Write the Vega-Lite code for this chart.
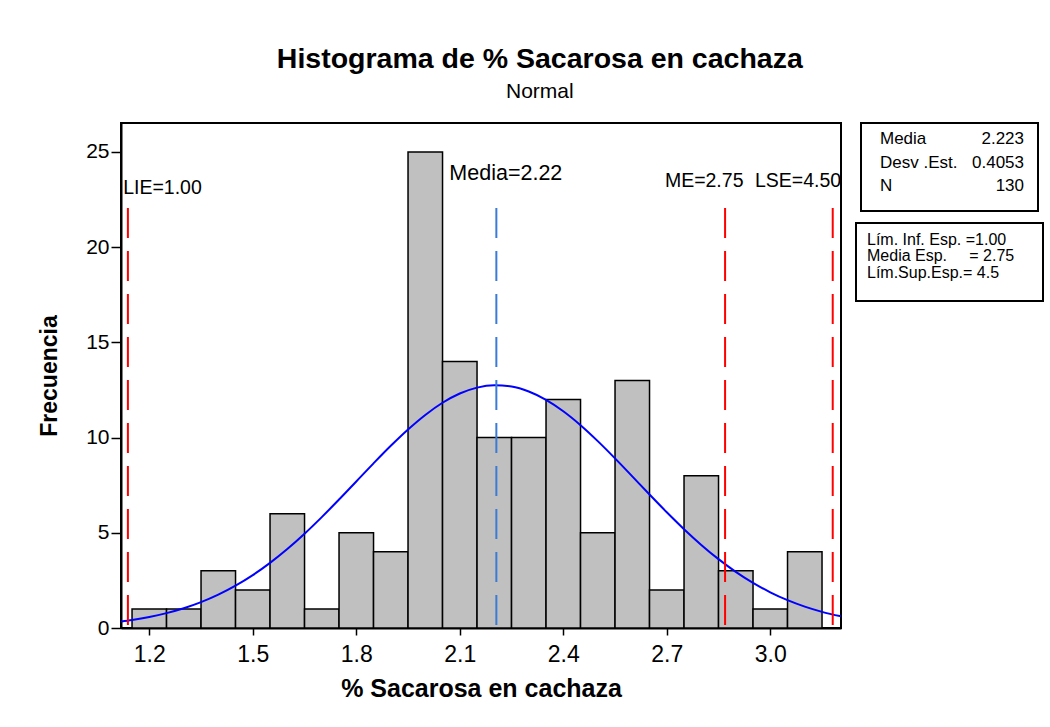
{
  "$schema": "https://vega.github.io/schema/vega-lite/v6.json",
  "background": "white",
  "padding": {"left": 37, "top": 44, "right": 0, "bottom": 0},
  "title": {
    "text": "Histograma de % Sacarosa en cachaza",
    "subtitle": "Normal",
    "anchor": "middle",
    "dx": -1,
    "font": "Liberation Sans",
    "fontSize": 28.5,
    "fontWeight": "bold",
    "color": "black",
    "subtitleFont": "Liberation Sans",
    "subtitleFontSize": 21,
    "subtitleColor": "black",
    "subtitlePadding": 8,
    "offset": 20
  },
  "config": {
    "font": "Liberation Sans",
    "view": {"stroke": "black", "strokeWidth": 2}
  },
  "datasets": {
    "bins": [
      {"bin_start": 1.15, "bin_end": 1.25, "count": 1},
      {"bin_start": 1.25, "bin_end": 1.35, "count": 1},
      {"bin_start": 1.35, "bin_end": 1.45, "count": 3},
      {"bin_start": 1.45, "bin_end": 1.55, "count": 2},
      {"bin_start": 1.55, "bin_end": 1.65, "count": 6},
      {"bin_start": 1.65, "bin_end": 1.75, "count": 1},
      {"bin_start": 1.75, "bin_end": 1.85, "count": 5},
      {"bin_start": 1.85, "bin_end": 1.95, "count": 4},
      {"bin_start": 1.95, "bin_end": 2.05, "count": 25},
      {"bin_start": 2.05, "bin_end": 2.15, "count": 14},
      {"bin_start": 2.15, "bin_end": 2.25, "count": 10},
      {"bin_start": 2.25, "bin_end": 2.35, "count": 10},
      {"bin_start": 2.35, "bin_end": 2.45, "count": 12},
      {"bin_start": 2.45, "bin_end": 2.55, "count": 5},
      {"bin_start": 2.55, "bin_end": 2.65, "count": 13},
      {"bin_start": 2.65, "bin_end": 2.75, "count": 2},
      {"bin_start": 2.75, "bin_end": 2.85, "count": 8},
      {"bin_start": 2.85, "bin_end": 2.95, "count": 3},
      {"bin_start": 2.95, "bin_end": 3.05, "count": 1},
      {"bin_start": 3.05, "bin_end": 3.15, "count": 4}
    ],
    "curve": [
      {"x": 1.118, "y": 0.343}, {"x": 1.15, "y": 0.423}, {"x": 1.2, "y": 0.579},
      {"x": 1.25, "y": 0.782}, {"x": 1.3, "y": 1.038}, {"x": 1.35, "y": 1.359},
      {"x": 1.4, "y": 1.751}, {"x": 1.45, "y": 2.223}, {"x": 1.5, "y": 2.778},
      {"x": 1.55, "y": 3.42}, {"x": 1.6, "y": 4.147}, {"x": 1.65, "y": 4.952},
      {"x": 1.7, "y": 5.824}, {"x": 1.75, "y": 6.746}, {"x": 1.8, "y": 7.696},
      {"x": 1.85, "y": 8.646}, {"x": 1.9, "y": 9.567}, {"x": 1.95, "y": 10.425},
      {"x": 2.0, "y": 11.189}, {"x": 2.05, "y": 11.828}, {"x": 2.1, "y": 12.313},
      {"x": 2.15, "y": 12.624}, {"x": 2.2, "y": 12.748}, {"x": 2.25, "y": 12.678},
      {"x": 2.3, "y": 12.418}, {"x": 2.35, "y": 11.979}, {"x": 2.4, "y": 11.381},
      {"x": 2.45, "y": 10.65}, {"x": 2.5, "y": 9.814}, {"x": 2.55, "y": 8.908},
      {"x": 2.6, "y": 7.962}, {"x": 2.65, "y": 7.01}, {"x": 2.7, "y": 6.078},
      {"x": 2.75, "y": 5.19}, {"x": 2.8, "y": 4.365}, {"x": 2.85, "y": 3.615},
      {"x": 2.9, "y": 2.949}, {"x": 2.95, "y": 2.369}, {"x": 3.0, "y": 1.875},
      {"x": 3.05, "y": 1.461}, {"x": 3.1, "y": 1.121}, {"x": 3.15, "y": 0.848},
      {"x": 3.205, "y": 0.612}
    ],
    "refs": [
      {"name": "LIE", "text": "LIE=1.00", "pos": 1.138, "kind": "spec"},
      {"name": "Media", "text": "Media=2.22", "pos": 2.206, "kind": "mean"},
      {"name": "ME", "text": "ME=2.75", "pos": 2.869, "kind": "spec"},
      {"name": "LSE", "text": "LSE=4.50", "pos": 3.181, "kind": "spec"}
    ],
    "stats": [
      {"stat": "Media", "value": "2.223"},
      {"stat": "Desv\u00a0.Est.", "value": "0.4053"},
      {"stat": "N", "value": "130"}
    ],
    "specs": [
      {"line": "Lím. Inf. Esp. =1.00"},
      {"line": "Media Esp.\u00a0\u00a0\u00a0\u00a0\u00a0= 2.75"},
      {"line": "Lím.Sup.Esp.= 4.5"}
    ]
  },
  "spacing": 9,
  "hconcat": [
    {
      "width": 720,
      "height": 505,
      "layer": [
        {
          "data": {"name": "bins"},
          "mark": {"type": "rect", "fill": "#c0c0c0", "stroke": "black", "strokeWidth": 1.5},
          "encoding": {
            "x": {
              "field": "bin_start", "type": "quantitative",
              "scale": {"domain": [1.118, 3.205], "nice": false, "zero": false},
              "axis": {
                "values": [1.2, 1.5, 1.8, 2.1, 2.4, 2.7, 3.0], "format": ".1f",
                "grid": false, "domainColor": "black", "domainWidth": 2,
                "tickColor": "black", "tickWidth": 1.5, "tickSize": 7,
                "labelFontSize": 23, "labelColor": "black", "labelPadding": 8,
                "titleFontSize": 25, "titleFontWeight": "bold", "titleColor": "black", "titlePadding": 10
              },
              "title": "% Sacarosa en cachaza"
            },
            "x2": {"field": "bin_end"},
            "y": {
              "field": "count", "type": "quantitative",
              "scale": {"domain": [0, 26.52], "nice": false},
              "axis": {
                "values": [0, 5, 10, 15, 20, 25],
                "grid": false, "domainColor": "black", "domainWidth": 2,
                "tickColor": "black", "tickWidth": 1.5, "tickSize": 10,
                "labelFontSize": 21, "labelColor": "black", "labelPadding": 2,
                "titleFontSize": 23, "titleFontWeight": "bold", "titleColor": "black", "titlePadding": 24
              },
              "title": "Frecuencia"
            },
            "y2": {"datum": 0}
          }
        },
        {
          "data": {"name": "curve"},
          "mark": {"type": "line", "color": "#0000ff", "strokeWidth": 2, "interpolate": "monotone"},
          "encoding": {
            "x": {"field": "x", "type": "quantitative"},
            "y": {"field": "y", "type": "quantitative"}
          }
        },
        {
          "data": {"name": "refs"},
          "mark": {"type": "rule", "strokeWidth": 2, "strokeDash": [30, 13]},
          "encoding": {
            "x": {"field": "pos", "type": "quantitative"},
            "y": {"datum": 22.05},
            "y2": {"datum": 0},
            "color": {"field": "kind", "type": "nominal", "scale": {"domain": ["spec", "mean"], "range": ["#ff0000", "#3a7bd5"]}, "legend": null}
          }
        },
        {
          "data": {"name": "refs"},
          "transform": [{"filter": "datum.name == 'LIE'"}],
          "mark": {"type": "text", "align": "left", "baseline": "middle", "dx": -4.7, "fontSize": 19.5, "color": "black"},
          "encoding": {"x": {"field": "pos", "type": "quantitative"}, "y": {"datum": 23.11}, "text": {"field": "text"}}
        },
        {
          "data": {"name": "refs"},
          "transform": [{"filter": "datum.name == 'Media'"}],
          "mark": {"type": "text", "align": "left", "baseline": "middle", "dx": -47, "fontSize": 21.5, "color": "black"},
          "encoding": {"x": {"field": "pos", "type": "quantitative"}, "y": {"datum": 23.84}, "text": {"field": "text"}}
        },
        {
          "data": {"name": "refs"},
          "transform": [{"filter": "datum.name == 'ME'"}],
          "mark": {"type": "text", "align": "right", "baseline": "middle", "dx": 18.4, "fontSize": 19.5, "color": "black"},
          "encoding": {"x": {"field": "pos", "type": "quantitative"}, "y": {"datum": 23.46}, "text": {"field": "text"}}
        },
        {
          "data": {"name": "refs"},
          "transform": [{"filter": "datum.name == 'LSE'"}],
          "mark": {"type": "text", "align": "right", "baseline": "middle", "dx": 8.5, "fontSize": 19.5, "color": "black"},
          "encoding": {"x": {"field": "pos", "type": "quantitative"}, "y": {"datum": 23.46}, "text": {"field": "text"}}
        }
      ]
    },
    {
      "vconcat": [
        {
          "width": 177,
          "height": 88,
          "data": {"name": "stats"},
          "layer": [
            {
              "mark": {"type": "text", "align": "left", "baseline": "middle", "dx": 19, "fontSize": 17, "color": "black"},
              "encoding": {
                "x": {"datum": 0, "type": "quantitative", "scale": {"domain": [0, 1]}, "axis": null},
                "y": {"field": "stat", "type": "nominal", "sort": null, "scale": {"type": "point", "range": [16, 63], "padding": 0}, "axis": null},
                "text": {"field": "stat"}
              }
            },
            {
              "mark": {"type": "text", "align": "right", "baseline": "middle", "dx": -14, "fontSize": 17, "color": "black"},
              "encoding": {
                "x": {"datum": 1, "type": "quantitative"},
                "y": {"field": "stat", "type": "nominal", "sort": null},
                "text": {"field": "value"}
              }
            }
          ]
        },
        {
          "width": 187,
          "height": 78,
          "data": {"name": "specs"},
          "mark": {"type": "text", "align": "left", "baseline": "middle", "dx": 11, "fontSize": 16, "color": "black"},
          "encoding": {
            "x": {"datum": 0, "type": "quantitative", "scale": {"domain": [0, 1]}, "axis": null},
            "y": {"field": "line", "type": "nominal", "sort": null, "scale": {"type": "point", "range": [16.6, 49.6], "padding": 0}, "axis": null},
            "text": {"field": "line"}
          }
        }
      ],
      "spacing": 10,
      "center": true
    }
  ]
}
